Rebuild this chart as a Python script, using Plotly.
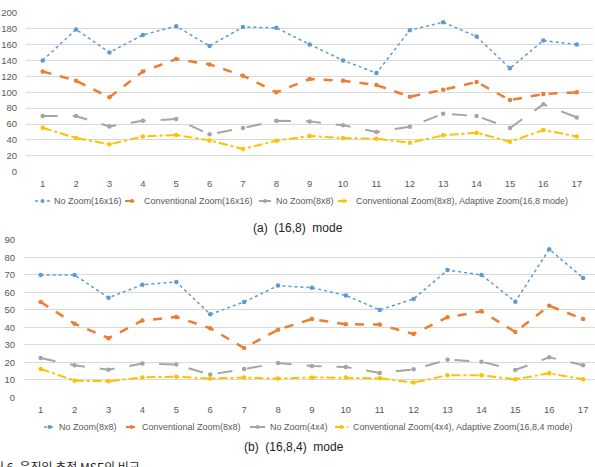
import plotly.graph_objects as go

x_idx = list(range(1, 18))

# (a) (16,8) mode
a_names = ["No Zoom(16x16)", "Conventional Zoom(16x16)", "No Zoom(8x8)",
           "Conventional Zoom(8x8), Adaptive Zoom(16,8 mode)"]
a_nozoom16 = [140, 179, 150, 172, 183, 158, 182, 181, 160, 140, 124, 178, 188, 170, 130, 165, 160]
a_conv16 = [126, 114.5, 93.5, 126, 141.7, 135, 120.8, 99.8, 116.6, 114.5, 109, 94.3, 103.1, 112.8, 90.1, 97.7, 99.8]
a_nozoom8 = [70, 70, 57, 64, 66.2, 47, 55, 64, 63.3, 58.3, 49.9, 56.6, 73, 70, 55, 84.7, 68.3]
a_conv8 = [55.3, 42.3, 34.4, 44.4, 46.1, 39.4, 28.5, 39, 44.9, 42.3, 41.5, 36.5, 45.7, 49, 37.7, 52.4, 44.4]

# (b) (16,8,4) mode
b_names = ["No Zoom(8x8)", "Conventional Zoom(8x8)", "No Zoom(4x4)",
           "Conventional Zoom(4x4), Adaptive Zoom(16,8,4 mode)"]
b_nozoom8 = [70, 70, 57, 64.4, 66, 47.5, 54.5, 63.9, 62.7, 58.3, 50, 56.3, 72.8, 70, 54.7, 84.7, 68.3]
b_conv8 = [54.5, 42.1, 33.8, 43.9, 46, 39.5, 28.2, 38.7, 44.8, 41.8, 41.6, 36.2, 45.8, 49.2, 37.4, 52.4, 44.8]
b_nozoom4 = [22.5, 18.3, 15.8, 19.3, 18.7, 13, 16.2, 19.6, 17.9, 17.4, 13.9, 16, 21.5, 20.4, 15.6, 22.9, 18.3]
b_conv4 = [16.2, 9.5, 9.2, 11.4, 11.8, 10.7, 11.3, 10.7, 11.4, 11.3, 10.9, 8.4, 12.6, 12.6, 10.3, 13.7, 10.3]

a_ticks = [0, 20, 40, 60, 80, 100, 120, 140, 160, 180, 200]
b_ticks = [0, 10, 20, 30, 40, 50, 60, 70, 80, 90]

colors = ["#5b9bd5", "#ed7d31", "#a5a5a5", "#ffc000"]
dashes = ["dot", "dash", "longdash", "dashdot"]
widths = [1.5, 2.5, 2, 2]

FONT = "Liberation Sans"
TICKC = "#595959"
W, H = 595, 467


def px_x(p):
    return p / W


def px_y(p):
    return 1 - p / H


fig = go.Figure()

for i, (nm, ys) in enumerate(zip(a_names, [a_nozoom16, a_conv16, a_nozoom8, a_conv8])):
    fig.add_trace(go.Scatter(x=x_idx, y=ys, name=nm, mode="lines+markers",
                             line=dict(color=colors[i], dash=dashes[i], width=widths[i]),
                             marker=dict(color=colors[i], size=4.5),
                             xaxis="x", yaxis="y", showlegend=False))
for i, (nm, ys) in enumerate(zip(b_names, [b_nozoom8, b_conv8, b_nozoom4, b_conv4])):
    fig.add_trace(go.Scatter(x=x_idx, y=ys, name=nm, mode="lines+markers",
                             line=dict(color=colors[i], dash=dashes[i], width=widths[i]),
                             marker=dict(color=colors[i], size=4.5),
                             xaxis="x2", yaxis="y2", showlegend=False))

# compact legends (symbol start, symbol end, text start) in pixels
legend_a_y = 201
legend_a_pos = [(35, 50, 52), (125, 139, 142), (259, 271, 274), (338, 350, 354)]
legend_b_y = 427
legend_b_pos = [(44, 55, 57), (126, 137, 140), (250, 265, 268), (335, 348, 351)]

shapes = []
annotations = []
for names, ly, poss in [(a_names, legend_a_y, legend_a_pos), (b_names, legend_b_y, legend_b_pos)]:
    for i, (nm, (s0, s1, tx)) in enumerate(zip(names, poss)):
        shapes.append(dict(type="line", xref="paper", yref="paper",
                           x0=px_x(s0), x1=px_x(s1), y0=px_y(ly), y1=px_y(ly),
                           line=dict(color=colors[i], dash=dashes[i], width=min(widths[i], 2))))
        cx = (s0 + s1) / 2
        shapes.append(dict(type="circle", xref="paper", yref="paper",
                           x0=px_x(cx - 2), x1=px_x(cx + 2), y0=px_y(ly + 2), y1=px_y(ly - 2),
                           fillcolor=colors[i], line=dict(width=0)))
        annotations.append(dict(text=nm, x=px_x(tx), y=px_y(ly), xref="paper", yref="paper",
                                showarrow=False, xanchor="left", yanchor="middle",
                                font=dict(family=FONT, size=9, color=TICKC)))

SUBFONT = dict(family="Liberation Sans", size=12, color="#222222")
annotations += [
    dict(text="(a)  (16,8)  mode", x=px_x(298), y=px_y(228.5), xref="paper", yref="paper",
         showarrow=False, xanchor="center", yanchor="middle", font=SUBFONT),
    dict(text="(b)  (16,8,4)  mode", x=px_x(294), y=px_y(447), xref="paper", yref="paper",
         showarrow=False, xanchor="center", yanchor="middle", font=SUBFONT),
    dict(text="그림 6. 움직임 추정 MSE의 비교", x=px_x(-20), y=px_y(466), xref="paper", yref="paper",
         showarrow=False, xanchor="left", yanchor="middle",
         font=dict(family="Noto Sans CJK KR", size=12, color="#222222")),
]

axis_common = dict(showline=False, zeroline=False, ticks="",
                   tickfont=dict(family=FONT, size=9.5, color=TICKC))

fig.update_layout(
    width=W, height=H,
    margin=dict(l=0, r=0, t=0, b=0, autoexpand=False),
    paper_bgcolor="white", plot_bgcolor="white",
    font=dict(family=FONT, color=TICKC),
    showlegend=False,
    xaxis=dict(domain=[px_x(26), px_x(593.4)], range=[0.5, 17.5], tickvals=x_idx,
               showgrid=False, anchor="y", ticklabelstandoff=5, **axis_common),
    yaxis=dict(domain=[px_y(171.7), px_y(12.7)], range=[0, 200], tickvals=a_ticks,
               showgrid=True, gridcolor="#d9d9d9", gridwidth=1, anchor="x",
               ticklabelstandoff=8, **axis_common),
    xaxis2=dict(domain=[px_x(24), 1], range=[0.507, 17.35], tickvals=x_idx,
                showgrid=False, anchor="y2", ticklabelstandoff=5, **axis_common),
    yaxis2=dict(domain=[px_y(397.3), px_y(240)], range=[0, 90], tickvals=b_ticks,
                showgrid=True, gridcolor="#d9d9d9", gridwidth=1, anchor="x2",
                ticklabelstandoff=8, **axis_common),
    shapes=shapes,
    annotations=annotations,
)

fig.write_html("out.html")
